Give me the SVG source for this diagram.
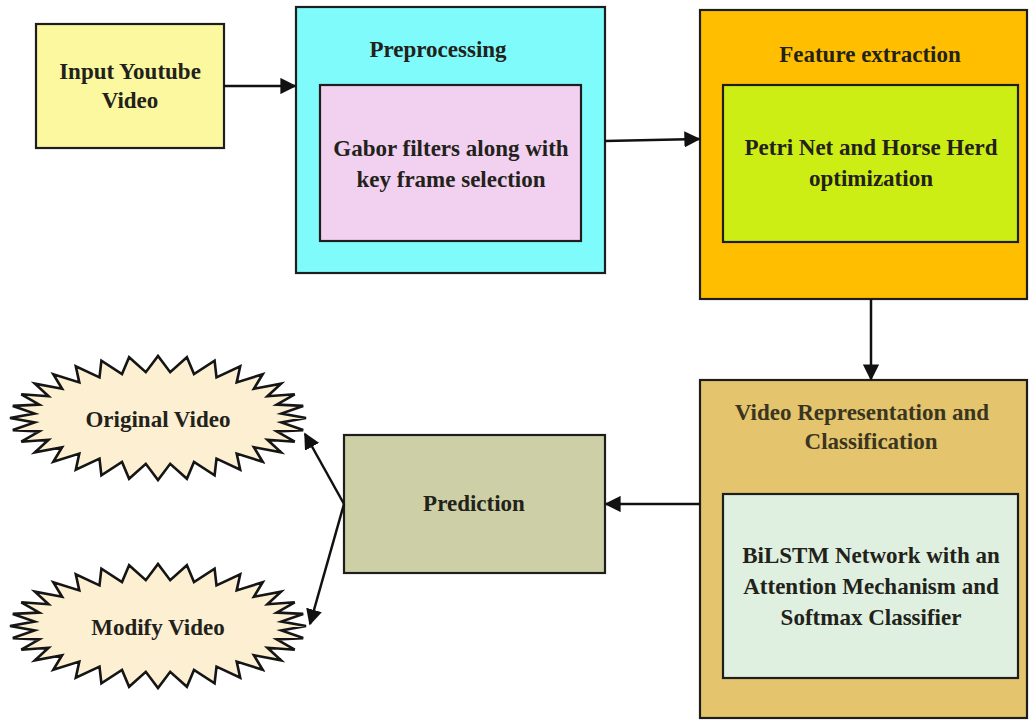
<svg xmlns="http://www.w3.org/2000/svg" xmlns:xlink="http://www.w3.org/1999/xlink" width="1030" height="720" viewBox="0 0 1030 720">
<style>
.box{stroke:#1e1e1e;stroke-width:2.2}
.t{font-family:"Liberation Serif","Times New Roman",serif;font-weight:bold;font-size:23px;fill:#22221a;text-anchor:middle}
.conn{stroke:#111;stroke-width:2.5;fill:none;marker-end:url(#ah)}
</style>
<defs>
<marker id="ah" viewBox="0 0 10 10" refX="9" refY="5" markerWidth="6.5" markerHeight="6.5" markerUnits="strokeWidth" orient="auto">
<path d="M0,0 L10,5 L0,10 z" fill="#111"/>
</marker>
<polygon id="star" points="148,0 123.4,-4.5 145.2,-12.1 118.7,-13.4 136.7,-23.7 109.4,-21.7 123.1,-34.4 95.9,-29.2 104.7,-43.8 78.7,-35.6 82.2,-51.6 58.5,-40.6 56.6,-57.3 36,-44 28.9,-60.8 12.2,-45.8 0,-62 -12.2,-45.8 -28.9,-60.8 -36,-44 -56.6,-57.3 -58.5,-40.6 -82.2,-51.6 -78.7,-35.6 -104.7,-43.8 -95.9,-29.2 -123.1,-34.4 -109.4,-21.7 -136.7,-23.7 -118.7,-13.4 -145.2,-12.1 -123.4,-4.5 -148,0 -123.4,4.5 -145.2,12.1 -118.7,13.4 -136.7,23.7 -109.4,21.7 -123.1,34.4 -95.9,29.2 -104.7,43.8 -78.7,35.6 -82.2,51.6 -58.5,40.6 -56.6,57.3 -36,44 -28.9,60.8 -12.2,45.8 0,62 12.2,45.8 28.9,60.8 36,44 56.6,57.3 58.5,40.6 82.2,51.6 78.7,35.6 104.7,43.8 95.9,29.2 123.1,34.4 109.4,21.7 136.7,23.7 118.7,13.4 145.2,12.1 123.4,4.5" fill="#fcefd2" stroke="#151515" stroke-width="2.6" stroke-linejoin="miter"/>
</defs>

<g id="input">
<rect class="box" x="36" y="24" width="188" height="124" fill="#fbf8a0"/>
<text class="t" x="130" y="79">Input Youtube</text>
<text class="t" x="130" y="108">Video</text>
</g>

<g id="preprocessing">
<rect class="box" x="296" y="7" width="309" height="266" fill="#80fbfc"/>
<text class="t" x="438" y="57">Preprocessing</text>
<rect class="box" x="320" y="85" width="261" height="156" fill="#f2d0f0"/>
<text class="t" x="451" y="156">Gabor filters along with</text>
<text class="t" x="451" y="187">key frame selection</text>
</g>

<g id="feature">
<rect class="box" x="700" y="10" width="327" height="289" fill="#ffbf00"/>
<text class="t" x="870" y="62">Feature extraction</text>
<rect class="box" x="723" y="85" width="295" height="157" fill="#cdee14"/>
<text class="t" x="871" y="155">Petri Net and Horse Herd</text>
<text class="t" x="871" y="186">optimization</text>
</g>

<g id="representation">
<rect class="box" x="700" y="380" width="327" height="338" fill="#e4c46c"/>
<text class="t" x="862" y="420" style="fill:#3a3520">Video Representation and</text>
<text class="t" x="871" y="449" style="fill:#3a3520">Classification</text>
<rect class="box" x="723" y="494" width="295" height="184" fill="#dff0e0"/>
<text class="t" x="871" y="563">BiLSTM Network with an</text>
<text class="t" x="871" y="594">Attention Mechanism and</text>
<text class="t" x="871" y="625">Softmax Classifier</text>
</g>

<g id="prediction">
<rect class="box" x="344" y="435" width="261" height="138" fill="#cdd0a7"/>
<text class="t" x="474" y="511">Prediction</text>
</g>

<g id="original">
<use xlink:href="#star" href="#star" transform="translate(158,418)"/>
<text class="t" x="158" y="427">Original Video</text>
</g>

<g id="modify">
<use xlink:href="#star" href="#star" transform="translate(158,626)"/>
<text class="t" x="158" y="635">Modify Video</text>
</g>

<g id="connectors">
<line class="conn" x1="224" y1="86" x2="295" y2="86"/>
<line class="conn" x1="605" y1="141" x2="699" y2="139"/>
<line class="conn" x1="871" y1="299" x2="871" y2="379"/>
<line class="conn" x1="700" y1="504" x2="606" y2="504"/>
<line class="conn" x1="344" y1="504" x2="305" y2="434"/>
<line class="conn" x1="344" y1="504" x2="310" y2="624"/>
</g>
</svg>
